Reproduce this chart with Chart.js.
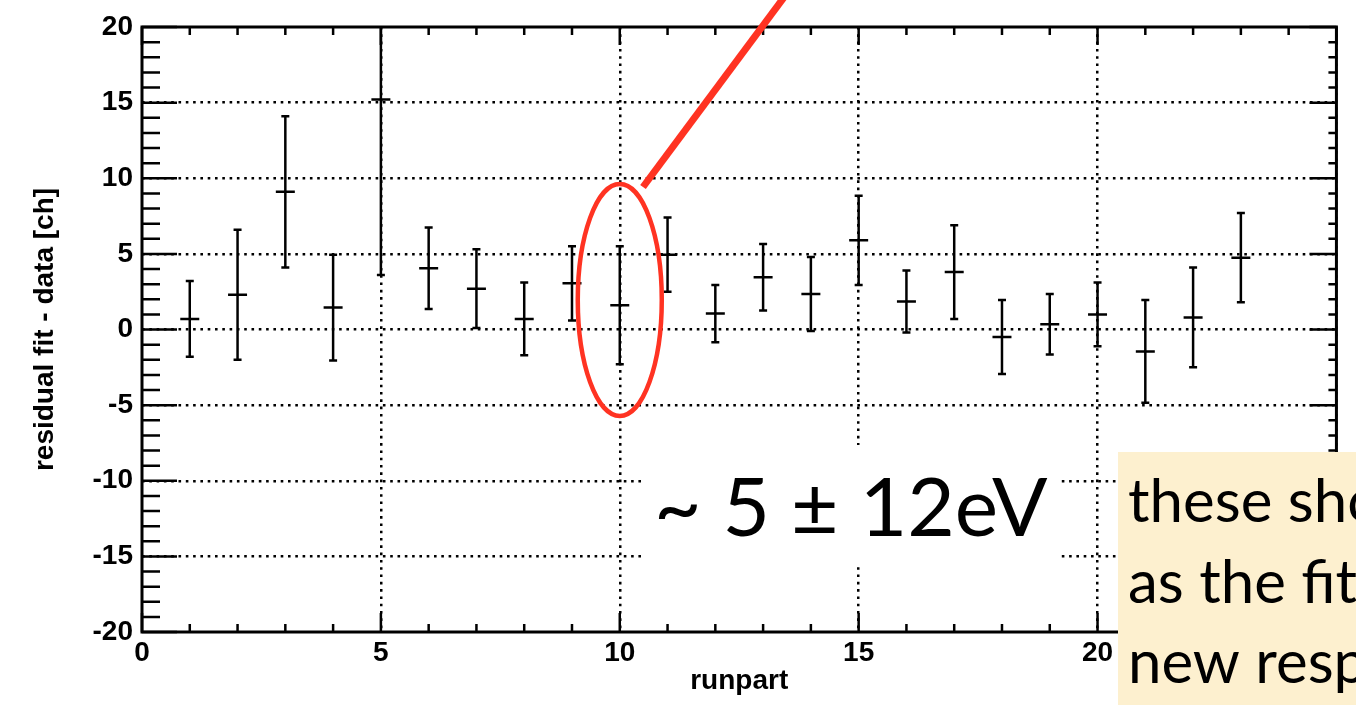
<!DOCTYPE html>
<html>
<head>
<meta charset="utf-8">
<script src="https://cdn.jsdelivr.net/npm/chart.js@4"></script>
<style>
  html, body { margin: 0; padding: 0; background: #fff; }
  #wrap { width: 1356px; height: 705px; position: relative; }
</style>
</head>
<body>
<div id="wrap"><canvas id="resChart" width="1356" height="705"></canvas></div>
<script>
// residuals per runpart
const runs = [1, 2, 3, 4, 5, 6, 7, 8, 9, 10, 11, 12, 13, 14, 15, 16, 17, 18, 19, 20, 21, 22, 23];
const residuals = [0.7, 2.3, 9.1, 1.45, 15.2, 4.05, 2.7, 0.7, 3.05, 1.6, 4.95, 1.05, 3.45, 2.35, 5.9, 1.85, 3.8, -0.5, 0.35, 1.0, -1.45, 0.8, 4.75];
const errors = [2.5, 4.3, 5.0, 3.5, 11.6, 2.7, 2.6, 2.4, 2.45, 3.9, 2.45, 1.9, 2.2, 2.45, 2.95, 2.05, 3.1, 2.45, 2.0, 2.1, 3.4, 3.3, 2.95];

const xRange = [0, 25];
const yRange = [-20, 20];
const xTitle = 'runpart';
const yTitle = 'residual fit - data [ch]';

const resultText = '~ 5 \u00b1 12eV';
const noteLines = ['these should', 'as the fit', 'new response'];

const tickFont = { family: '"Liberation Sans", Arial, sans-serif', weight: 'bold', size: 28 };
const titleFont = { family: '"Liberation Sans", Arial, sans-serif', weight: 'bold', size: 28 };

// frame + ROOT-style inward ticks
const framePlugin = {
    id: 'frame',
    afterDatasetsDraw(chart) {
        const { ctx, chartArea: a, scales: { x, y } } = chart;
        ctx.save();
        ctx.strokeStyle = '#000';
        ctx.lineWidth = 2.5;
        ctx.beginPath();
        for (let v = y.min; v <= y.max; v++) {
            const py = y.getPixelForValue(v);
            const major = v % 5 === 0;
            ctx.moveTo(a.left, py); ctx.lineTo(a.left + (major ? 35 : 18), py);
            ctx.moveTo(a.right, py); ctx.lineTo(a.right - (major ? 27 : 8), py);
        }
        for (let v = x.min; v <= x.max; v++) {
            const px = x.getPixelForValue(v);
            const major = v % 5 === 0;
            ctx.moveTo(px, a.bottom); ctx.lineTo(px, a.bottom - (major ? 19 : 8));
            ctx.moveTo(px, a.top); ctx.lineTo(px, a.top + (major ? 18 : 8));
        }
        ctx.stroke();
        ctx.lineWidth = 3;
        ctx.strokeRect(a.left, a.top, a.right - a.left, a.bottom - a.top);
        ctx.restore();
    }
};

// error bars drawn through the scales
const errorBarPlugin = {
    id: 'errbars',
    afterDatasetsDraw(chart) {
        const { ctx, chartArea: a, scales: { x, y } } = chart;
        ctx.save();
        ctx.beginPath();
        ctx.rect(a.left, a.top, a.right - a.left, a.bottom - a.top);
        ctx.clip();
        ctx.strokeStyle = '#000';
        ctx.lineWidth = 2.5;
        runs.forEach((r, i) => {
            const px = x.getPixelForValue(r);
            const py = y.getPixelForValue(residuals[i]);
            const top = y.getPixelForValue(residuals[i] + errors[i]);
            const bot = y.getPixelForValue(residuals[i] - errors[i]);
            ctx.beginPath();
            ctx.moveTo(px, top); ctx.lineTo(px, bot);
            ctx.moveTo(px - 4, top); ctx.lineTo(px + 4, top);
            ctx.moveTo(px - 4, bot); ctx.lineTo(px + 4, bot);
            ctx.moveTo(px - 9.5, py); ctx.lineTo(px + 9.5, py);
            ctx.stroke();
        });
        ctx.restore();
    }
};

// slide annotations on top of the plot
const notesPlugin = {
    id: 'notes',
    afterDraw(chart) {
        const { ctx, scales: { x, y } } = chart;
        ctx.save();

        // red arrow line + ellipse round runpart 10
        ctx.strokeStyle = '#ff3322';
        ctx.lineWidth = 7;
        ctx.beginPath();
        ctx.moveTo(643, 187);
        ctx.lineTo(643 + 139 / 187 * 197, -10);
        ctx.stroke();

        ctx.lineWidth = 4.5;
        ctx.beginPath();
        ctx.ellipse(x.getPixelForValue(10), y.getPixelForValue(1.95), 42, 116, 0, 0, Math.PI * 2);
        ctx.stroke();

        // white label box
        ctx.fillStyle = '#fff';
        ctx.fillRect(645, 445, 415, 118);
        ctx.fillStyle = '#000';
        ctx.font = '82px Lato, "Open Sans", sans-serif';
        ctx.textBaseline = 'alphabetic';
        ctx.fillText(resultText, 654, 536);

        // yellow note box, cut by the page edge
        ctx.fillStyle = '#fdf0cf';
        ctx.fillRect(1118, 452, 240, 253);
        ctx.fillStyle = '#000';
        ctx.font = '60px Lato, "Open Sans", sans-serif';
        noteLines.forEach((t, i) => ctx.fillText(t, 1128, 522 + i * 80.5));

        ctx.restore();
    }
};

new Chart(document.getElementById('resChart'), {
    type: 'scatter',
    data: {
        datasets: [{
            data: runs.map((r, i) => ({ x: r, y: residuals[i] })),
            pointRadius: 0,
            showLine: false
        }]
    },
    options: {
        responsive: false,
        animation: false,
        layout: { padding: { top: 27, right: 13, left: 0, bottom: 0 } },
        plugins: { legend: { display: false }, tooltip: { enabled: false } },
        scales: {
            x: {
                type: 'linear',
                min: xRange[0],
                max: xRange[1],
                afterFit: s => { s.height = 73; },
                ticks: { stepSize: 5, autoSkip: false, color: '#000', font: tickFont, padding: 4, maxRotation: 0 },
                grid: {
                    drawTicks: false,
                    lineWidth: 2.5,
                    color: c => (c.tick && c.tick.value === xRange[0]) ? 'rgba(0,0,0,0)' : '#000'
                },
                border: { display: false, dash: [2.6, 4.7] },
                title: { display: true, text: xTitle, color: '#000', font: titleFont, padding: { top: 0, bottom: 7 } }
            },
            y: {
                type: 'linear',
                min: yRange[0],
                max: yRange[1],
                afterFit: s => { s.width = 142; },
                ticks: { stepSize: 5, autoSkip: false, color: '#000', font: tickFont, padding: 9 },
                grid: {
                    drawTicks: false,
                    lineWidth: 2.5,
                    color: c => (c.tick && (c.tick.value === yRange[0] || c.tick.value === yRange[1])) ? 'rgba(0,0,0,0)' : '#000'
                },
                border: { display: false, dash: [2.6, 4.7] },
                title: { display: true, text: yTitle, color: '#000', font: titleFont, padding: { top: 28, bottom: 0 } }
            }
        }
    },
    plugins: [framePlugin, errorBarPlugin, notesPlugin]
});
</script>
</body>
</html>
